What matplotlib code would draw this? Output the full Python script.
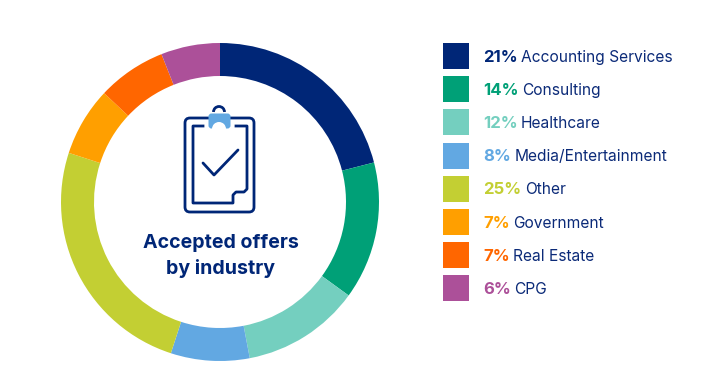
import matplotlib
matplotlib.use('Agg')
import matplotlib.pyplot as plt
from matplotlib.patches import FancyBboxPatch, Rectangle, Wedge, Arc

plt.rcParams['font.family'] = ['Inter', 'DejaVu Sans']

# datos
categorias = ['Accounting Services', 'Consulting', 'Healthcare', 'Media/Entertainment',
              'Other', 'Government', 'Real Estate', 'CPG']
valores = [21, 14, 12, 8, 25, 7, 7, 6]
colores = ['#002677', '#00a077', '#74cfbf', '#62a8e2', '#c3cf33', '#ff9f00', '#ff6600', '#ac5099']
titulo = ['Accepted offers', 'by industry']

azul = '#0b2a78'
W, H = 728, 392

fig = plt.figure(figsize=(W / 100, H / 100), dpi=100, facecolor='white')

# Dona: centro (220, 202), radio 159 px
cx, cy, r = 220, 202, 159
ax_pie = fig.add_axes([(cx - r) / W, 1 - (cy + r) / H, 2 * r / W, 2 * r / H])
ax_pie.pie(valores, colors=colores, startangle=90, counterclock=False, radius=1,
           wedgeprops={'width': 33 / 159, 'linewidth': 0})
ax_pie.set_xlim(-1, 1)
ax_pie.set_ylim(-1, 1)
ax_pie.axis('off')

# Capa en pixeles para icono y textos
ax = fig.add_axes([0, 0, 1, 1])
ax.set_xlim(0, W)
ax.set_ylim(H, 0)
ax.axis('off')
ax.patch.set_alpha(0)

lw = 2.0
# Tablero
ax.add_patch(FancyBboxPatch((188, 121), 63, 88, boxstyle='round,pad=3,rounding_size=5',
                            fc='none', ec='#002677', lw=lw))
# Hoja con esquina doblada
ax.plot([236, 247, 247, 244, 236, 233, 233, 193, 193, 203],
        [126, 126, 189, 192, 192, 195, 203, 203, 126, 126],
        color='#002677', lw=lw, solid_joinstyle='round')
# Check
ax.plot([203, 214, 238], [163, 175, 150], color='#002677', lw=lw, solid_capstyle='round')
# Argolla y clip
ax.add_patch(Arc((219, 112), 11, 11, theta1=180, theta2=360, color='#002677', lw=lw))
ax.add_patch(FancyBboxPatch((209, 114), 21, 14, boxstyle='round,pad=0.5,rounding_size=3',
                            fc='#62a8e2', ec='none', zorder=3))
ax.add_patch(Wedge((219, 129), 7, 180, 360, fc='white', ec='none', zorder=4))

# Titulo central
ax.text(220.5, 243, titulo[0], ha='center', va='center', fontsize=14.1, fontweight='bold', color='#002677')
ax.text(220.5, 268, titulo[1], ha='center', va='center', fontsize=14.1, fontweight='bold', color='#002677')

# Leyenda
fig.canvas.draw()
rend = fig.canvas.get_renderer()
inv = ax.transData.inverted()
for i, (cat, val, col) in enumerate(zip(categorias, valores, colores)):
    y = 43 + i * 33.2
    ax.add_patch(Rectangle((443, y), 26, 26, fc=col, ec='none'))
    t = ax.text(483.5, y + 14, f'{val}%', ha='left', va='center', fontsize=12, fontweight='bold', color=col)
    x_fin = inv.transform(t.get_window_extent(rend))[1][0]
    ax.text(x_fin + 3, y + 14, cat, ha='left', va='center', fontsize=11.2, color=azul)

fig.savefig('out.png', dpi=100, facecolor='white')
